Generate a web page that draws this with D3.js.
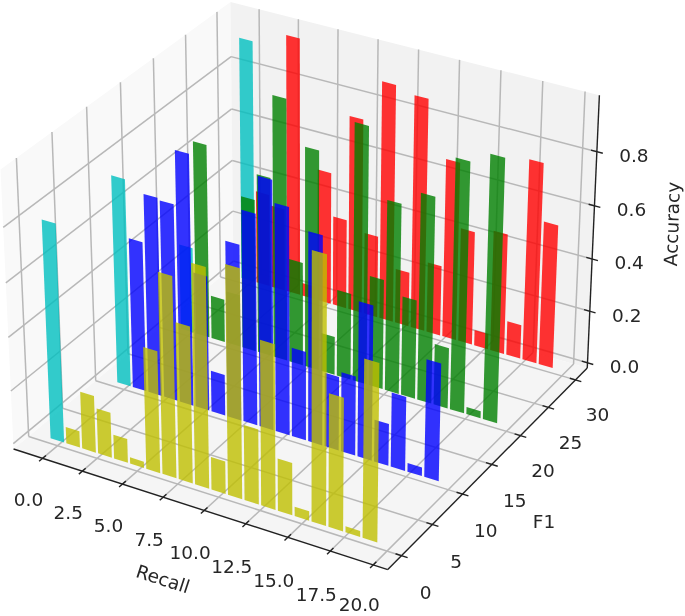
<!DOCTYPE html>
<html>
<head>
<meta charset="utf-8">
<script src="https://d3js.org/d3.v7.min.js"></script>
<style>
    body { margin: 0; background: #fff; }
    svg { display: block; filter: blur(0.55px); }
    text { font-family: "DejaVu Sans", sans-serif; fill: #262626; }
    .tick-label { font-size: 18.5px; text-anchor: middle; dominant-baseline: central; }
    .axis-title { font-size: 18.5px; text-anchor: middle; dominant-baseline: central; }
</style>
</head>
<body>
<script>
    // bar values, one list per row (first bar of each row is cyan)
    var recall = d3.range(20);
    var rowF1 = [30, 20, 10, 0];
    var rowColors = ["#ff0000", "#008000", "#0000ff", "#bfbf00"];
    var firstColor = "#00bfbf";
    var redVals = [0.93, 0.36, 0.32, 0.985, 0.05, 0.51, 0.345, 0.745, 0.315, 0.905,
        0.21, 0.885, 0.27, 0.68, 0.435, 0.06, 0.46, 0.13, 0.76, 0.545];
    var greenVals = [0.329, 0.737, 0.165, 0.2, 0.58, 0.679, 0.985, 0.394, 0.829, 0.146,
        0.329, 0.966, 0.417, 0.716, 0.375, 0.775, 0.231, 0.935, 0.027, 0.981];
    var blueVals = [0.78, 0.565, 0.745, 0.738, 0.937, 0.507, 0.155, 0.658, 0.788, 0.926,
        0.845, 0.334, 0.778, 0.277, 0.298, 0.577, 0.158, 0.278, 0.033, 0.438];
    var yellowVals = [0.81, 0.062, 0.214, 0.17, 0.09, 0.024, 0.454, 0.743, 0.58, 0.81,
        0.122, 0.84, 0.28, 0.607, 0.195, 0.035, 0.975, 0.49, 0.022, 0.65];
    var rowVals = [redVals, greenVals, blueVals, yellowVals];

    var xTicks = [0, 2.5, 5, 7.5, 10, 12.5, 15, 17.5, 20];
    var yTicks = [0, 5, 10, 15, 20, 25, 30];
    var zTicks = [0, 0.2, 0.4, 0.6, 0.8];
    var barHalf = 0.43;

    var width = 685;
    var height = 616;

    var svg = d3.select("body").append("svg")
        .attr("width", width)
        .attr("height", height);

    // pane extents (limits plus the 1/48 that matplotlib pads)
    var xMin = -1.84, xMax = 20.84;
    var yMin = -2.19, yMax = 32.19;
    var zMin = -0.0205, zMax = 1.0055;

    // box is 4:4:3, scaled so its centre is the origin
    var bx = 1.143, bz = 0.857;
    var xNorm = d3.scaleLinear().domain([xMin, xMax]).range([-bx / 2, bx / 2]);
    var yNorm = d3.scaleLinear().domain([yMin, yMax]).range([-bx / 2, bx / 2]);
    var zNorm = d3.scaleLinear().domain([zMin, zMax]).range([-bz / 2, bz / 2]);

    // camera: elev 30, azim -60, dist 10
    var elev = 30 * Math.PI / 180, azim = -60 * Math.PI / 180, dist = 10;
    var w = [Math.cos(elev) * Math.cos(azim), Math.cos(elev) * Math.sin(azim), Math.sin(elev)];
    var u = [-Math.sin(azim), Math.cos(azim), 0];
    var v = [w[1] * u[2] - w[2] * u[1], w[2] * u[0] - w[0] * u[2], w[0] * u[1] - w[1] * u[0]];

    var sxToPx = d3.scaleLinear().domain([0, 1]).range([305.5, 305.5 + 3752]);
    var syToPx = d3.scaleLinear().domain([0, 1]).range([272.7, 272.7 - 3719]);

    function project(x, y, z) {
        var p = [xNorm(x), yNorm(y), zNorm(z)];
        var d = dist - (w[0] * p[0] + w[1] * p[1] + w[2] * p[2]);
        var sx = (u[0] * p[0] + u[1] * p[1] + u[2] * p[2]) / d;
        var sy = (v[0] * p[0] + v[1] * p[1] + v[2] * p[2]) / d;
        return [sxToPx(sx), syToPx(sy)];
    }

    var line = d3.line();

    function poly(pts) {
        return line(pts.map(function (p) { return project(p[0], p[1], p[2]); })) + "Z";
    }

    function seg(g, a, b, color, lw) {
        g.append("path")
            .attr("d", line([project(a[0], a[1], a[2]), project(b[0], b[1], b[2])]))
            .attr("fill", "none")
            .attr("stroke", color)
            .attr("stroke-width", lw);
    }

    // panes
    var panes = svg.append("g");
    panes.append("path")
        .attr("d", poly([[xMin, yMin, zMin], [xMin, yMax, zMin], [xMin, yMax, zMax], [xMin, yMin, zMax]]))
        .attr("fill", "#f9f9f9");
    panes.append("path")
        .attr("d", poly([[xMin, yMax, zMin], [xMax, yMax, zMin], [xMax, yMax, zMax], [xMin, yMax, zMax]]))
        .attr("fill", "#f2f2f2");
    panes.append("path")
        .attr("d", poly([[xMin, yMin, zMin], [xMax, yMin, zMin], [xMax, yMax, zMin], [xMin, yMax, zMin]]))
        .attr("fill", "#f5f5f5");

    // grid
    var grid = svg.append("g");
    var gridColor = "#b8b8b8", gridW = 1.5;
    xTicks.forEach(function (t) {
        seg(grid, [t, yMin, zMin], [t, yMax, zMin], gridColor, gridW);
        seg(grid, [t, yMax, zMin], [t, yMax, zMax], gridColor, gridW);
    });
    yTicks.forEach(function (t) {
        seg(grid, [xMax, t, zMin], [xMin, t, zMin], gridColor, gridW);
        seg(grid, [xMin, t, zMin], [xMin, t, zMax], gridColor, gridW);
    });
    zTicks.forEach(function (t) {
        seg(grid, [xMin, yMin, t], [xMin, yMax, t], gridColor, gridW);
        seg(grid, [xMin, yMax, t], [xMax, yMax, t], gridColor, gridW);
    });

    // bars, back row first
    rowF1.forEach(function (f1, r) {
        svg.append("g").selectAll("path")
            .data(rowVals[r])
            .enter()
            .append("path")
            .attr("d", function (val, i) {
                return poly([
                    [recall[i] - barHalf, f1, 0],
                    [recall[i] + barHalf, f1, 0],
                    [recall[i] + barHalf, f1, val],
                    [recall[i] - barHalf, f1, val]
                ]);
            })
            .attr("fill", function (val, i) { return i === 0 ? firstColor : rowColors[r]; })
            .attr("fill-opacity", 0.8);
    });

    // axis lines and ticks
    var axes = svg.append("g");
    var axisColor = "#222", axisW = 1.4;
    seg(axes, [xMin, yMin, zMin], [xMax, yMin, zMin], axisColor, axisW);
    seg(axes, [xMax, yMin, zMin], [xMax, yMax, zMin], axisColor, axisW);
    seg(axes, [xMax, yMax, zMin], [xMax, yMax, zMax], axisColor, axisW);

    xTicks.forEach(function (t) {
        seg(axes, [t, yMin - 0.5, zMin], [t, yMin + 0.5, zMin], axisColor, axisW);
        var p = project(t, yMin, zMin);
        // last label sits right on the bottom edge, keep it inside
        svg.append("text").attr("class", "tick-label")
            .attr("x", p[0] - 14).attr("y", Math.min(p[1] + 41 + t * 0.15, 604.5))
            .text(t.toFixed(1));
    });
    yTicks.forEach(function (t) {
        seg(axes, [xMax - 0.35, t, zMin], [xMax + 0.35, t, zMin], axisColor, axisW);
        var p = project(xMax, t, zMin);
        svg.append("text").attr("class", "tick-label")
            .attr("x", p[0] + 24 - t * 0.07).attr("y", p[1] + 37 - t * 0.08)
            .text(t);
    });
    zTicks.forEach(function (t) {
        seg(axes, [xMax - 0.35, yMax, t], [xMax + 0.35, yMax, t], axisColor, axisW);
        var p = project(xMax, yMax, t);
        svg.append("text").attr("class", "tick-label")
            .attr("x", p[0] + 37).attr("y", p[1] + 4)
            .text(t.toFixed(1));
    });

    // axis titles
    svg.append("text").attr("class", "axis-title")
        .attr("transform", "translate(163,579) rotate(18)")
        .text("Recall");
    svg.append("text").attr("class", "axis-title")
        .attr("transform", "translate(544,521)")
        .text("F1");
    svg.append("text").attr("class", "axis-title")
        .attr("transform", "translate(672,224) rotate(-88)")
        .text("Accuracy");
</script>
</body>
</html>
